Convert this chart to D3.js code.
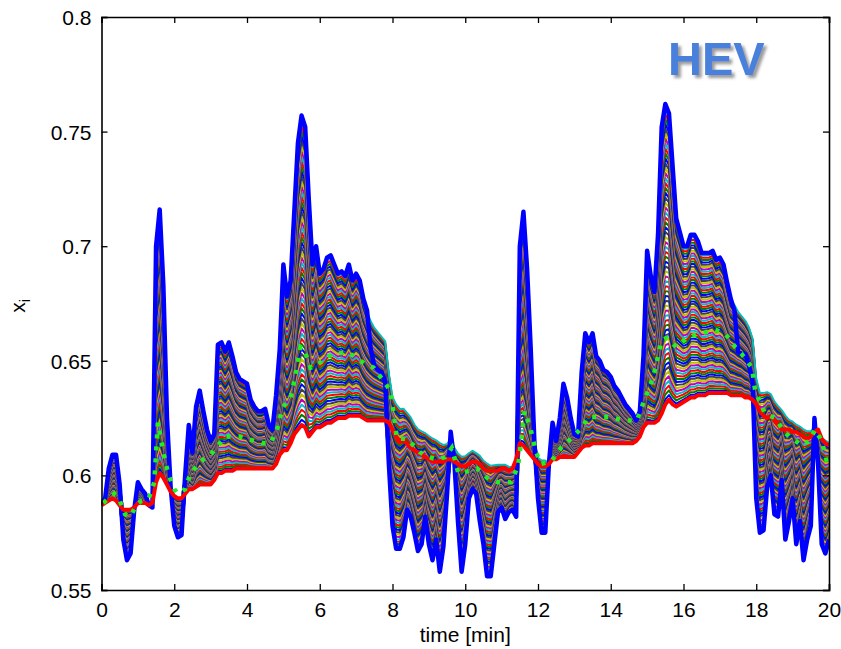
<!DOCTYPE html>
<html>
<head>
<meta charset="utf-8">
<script src="https://cdn.jsdelivr.net/npm/d3@7"></script>
<style>
  body { margin: 0; background: #fff; }
  svg { display: block; }
  text { font-family: "Liberation Sans", Arial, sans-serif; }
</style>
</head>
<body>
<svg id="chart" width="841" height="649"></svg>
<script>
// Cell state of charge x_i over a repeated HEV drive cycle.
// Samples are taken every 0.1 min from 0 to 20 min.
const sampleStep = 0.1;

// Extreme cell (thick blue), one value per sample
const blueCell = [
  0.588, 0.590, 0.603, 0.609, 0.609, 0.596, 0.572, 0.563, 0.566, 0.585,
  0.597, 0.594, 0.592, 0.587, 0.586, 0.700, 0.716, 0.683, 0.625, 0.595,
  0.578, 0.573, 0.574, 0.600, 0.622, 0.610, 0.630, 0.637, 0.628, 0.620,
  0.615, 0.618, 0.657, 0.658, 0.654, 0.658, 0.652, 0.645, 0.642, 0.641,
  0.640, 0.633, 0.630, 0.628, 0.628, 0.629, 0.622, 0.620, 0.635, 0.655,
  0.692, 0.678, 0.685, 0.715, 0.745, 0.757, 0.752, 0.720, 0.692, 0.700,
  0.688, 0.690, 0.695, 0.696, 0.692, 0.688, 0.689, 0.687, 0.692, 0.685,
  0.688, 0.685, 0.677, 0.672, 0.655, 0.648, 0.646, 0.645, 0.641, 0.605,
  0.578, 0.568, 0.568, 0.573, 0.585, 0.582, 0.575, 0.567, 0.570, 0.582,
  0.570, 0.563, 0.572, 0.558, 0.569, 0.592, 0.619, 0.606, 0.580, 0.558,
  0.570, 0.590, 0.594, 0.592, 0.580, 0.570, 0.556, 0.556, 0.570, 0.584,
  0.586, 0.581, 0.584, 0.585, 0.582, 0.700, 0.715, 0.690, 0.655, 0.615,
  0.590, 0.575, 0.575, 0.605, 0.623, 0.615, 0.625, 0.640, 0.634, 0.625,
  0.618, 0.617, 0.645, 0.662, 0.658, 0.662, 0.652, 0.650, 0.646, 0.645,
  0.643, 0.639, 0.637, 0.634, 0.631, 0.629, 0.627, 0.624, 0.628, 0.652,
  0.698, 0.687, 0.680, 0.705, 0.752, 0.762, 0.758, 0.735, 0.712, 0.706,
  0.700, 0.700, 0.705, 0.705, 0.702, 0.697, 0.697, 0.697, 0.698, 0.694,
  0.695, 0.692, 0.684, 0.677, 0.672, 0.654, 0.653, 0.653, 0.648, 0.641,
  0.590, 0.575, 0.576, 0.595, 0.600, 0.583, 0.582, 0.598, 0.572, 0.580,
  0.590, 0.570, 0.580, 0.563, 0.572, 0.578, 0.625, 0.605, 0.570, 0.566,
  0.572
];

// Reference cell (thick red), one value per sample
const redCell = [
  0.587, 0.588, 0.589, 0.590, 0.589, 0.587, 0.585, 0.585, 0.585, 0.586,
  0.588, 0.588, 0.588, 0.587, 0.588, 0.597, 0.601, 0.599, 0.596, 0.593,
  0.591, 0.590, 0.590, 0.592, 0.594, 0.594, 0.595, 0.596, 0.596, 0.596,
  0.596, 0.598, 0.601, 0.601, 0.602, 0.602, 0.602, 0.603, 0.603, 0.603,
  0.603, 0.603, 0.603, 0.603, 0.603, 0.603, 0.603, 0.603, 0.605, 0.609,
  0.611, 0.611, 0.614, 0.618, 0.620, 0.622, 0.621, 0.617, 0.619, 0.621,
  0.621, 0.622, 0.623, 0.623, 0.624, 0.625, 0.625, 0.625, 0.626, 0.626,
  0.626, 0.626, 0.625, 0.624, 0.624, 0.624, 0.624, 0.624, 0.624, 0.623,
  0.620, 0.617, 0.615, 0.615, 0.614, 0.612, 0.611, 0.610, 0.609, 0.608,
  0.607, 0.606, 0.606, 0.606, 0.606, 0.607, 0.607, 0.606, 0.605, 0.604,
  0.604, 0.605, 0.606, 0.606, 0.605, 0.603, 0.602, 0.602, 0.602, 0.602,
  0.603, 0.603, 0.602, 0.603, 0.607, 0.614, 0.613, 0.611, 0.609, 0.607,
  0.605, 0.604, 0.604, 0.605, 0.607, 0.607, 0.608, 0.608, 0.608, 0.608,
  0.608, 0.610, 0.612, 0.613, 0.613, 0.614, 0.614, 0.614, 0.614, 0.614,
  0.614, 0.614, 0.614, 0.614, 0.614, 0.614, 0.614, 0.615, 0.617, 0.621,
  0.623, 0.623, 0.623, 0.624, 0.627, 0.631, 0.633, 0.631, 0.630, 0.631,
  0.632, 0.633, 0.634, 0.634, 0.635, 0.635, 0.635, 0.636, 0.636, 0.636,
  0.636, 0.636, 0.636, 0.635, 0.635, 0.635, 0.635, 0.634, 0.634, 0.633,
  0.631, 0.628, 0.626, 0.625, 0.626, 0.624, 0.622, 0.620, 0.620, 0.620,
  0.619, 0.619, 0.618, 0.617, 0.616, 0.617, 0.619, 0.620, 0.616, 0.614,
  0.613
];

// Highest cell where the pack runs above both thick traces
const spreadTime = [
  7.4, 7.5, 7.6, 7.7, 7.8, 7.9,
  8.0, 8.1, 8.2, 8.3, 8.4, 8.5, 8.6, 8.7, 8.8, 8.9,
  9.0, 9.1, 9.2, 9.3, 9.4, 9.5, 9.6, 9.7, 9.8, 9.9,
  10.0, 10.1, 10.2, 10.3, 10.4, 10.5, 10.6, 10.7, 10.8, 10.9,
  11.0, 11.1, 11.2, 11.3,
  12.0, 12.1, 12.2,
  17.4, 17.5, 17.6, 17.7, 17.8, 17.9,
  18.0, 18.1, 18.2, 18.3, 18.4, 18.5, 18.6, 18.7, 18.8, 18.9,
  19.0, 19.1, 19.2, 19.3, 19.4, 19.5, 19.6, 19.7, 19.8, 19.9, 20.0
];
const spreadTop = [
  0.668, 0.665, 0.663, 0.661, 0.659, 0.645,
  0.635, 0.632, 0.630, 0.630, 0.628, 0.626, 0.623, 0.621, 0.620, 0.619,
  0.618, 0.617, 0.616, 0.615, 0.614, 0.614, 0.616, 0.612, 0.610, 0.609,
  0.609, 0.610, 0.611, 0.610, 0.609, 0.607, 0.606, 0.605, 0.605, 0.605,
  0.605, 0.605, 0.604, 0.604,
  0.608, 0.607, 0.607,
  0.675, 0.672, 0.670, 0.668, 0.665, 0.660,
  0.643, 0.637, 0.637, 0.637, 0.636, 0.633, 0.631, 0.629, 0.627, 0.625,
  0.624, 0.623, 0.622, 0.621, 0.620, 0.620, 0.621, 0.620, 0.617, 0.616, 0.615
];

// Marked cell (green dots)
const greenTime = [
  0.05, 0.2, 0.35, 0.5, 0.65, 0.8, 0.95, 1.1, 1.3, 1.45, 1.5, 1.55, 1.62, 1.7, 1.8, 1.9,
  2.0, 2.1, 2.3, 2.45, 2.62, 2.8, 3.0, 3.2, 3.4, 3.6, 3.8, 4.0, 4.2, 4.45, 4.65, 4.82,
  5.0, 5.2, 5.35, 5.47, 5.57, 5.75, 5.93, 6.2, 6.47, 6.75, 7.03, 7.3, 7.48, 7.67, 7.85, 7.94,
  8.03, 8.12, 8.4, 8.76, 8.99, 9.22, 9.45, 9.63, 9.81, 10.14, 10.33, 10.6, 10.9, 11.26, 11.45,
  11.54, 11.63, 11.8, 11.95, 12.08, 12.36, 12.63, 12.9, 13.16, 13.39, 13.62, 13.98, 14.35, 14.72,
  14.95, 15.17, 15.4, 15.54, 15.8, 16.13, 16.5, 16.87, 17.14, 17.42, 17.6, 17.88, 17.97,
  18.24, 18.52, 18.79, 19.0, 19.25, 19.45, 19.62, 19.8, 19.95
];
const greenCell = [
  0.588, 0.590, 0.592, 0.589, 0.583, 0.582, 0.587, 0.589, 0.590, 0.597, 0.610, 0.623, 0.617, 0.610, 0.603, 0.598,
  0.594, 0.592, 0.594, 0.601, 0.604, 0.607, 0.609, 0.613, 0.617, 0.617, 0.617, 0.616, 0.615, 0.614, 0.614, 0.620,
  0.630, 0.634, 0.645, 0.656, 0.655, 0.647, 0.648, 0.652, 0.653, 0.654, 0.651, 0.648, 0.647, 0.643, 0.639, 0.637,
  0.627, 0.616, 0.616, 0.610, 0.608, 0.607, 0.608, 0.612, 0.601, 0.602, 0.603, 0.599, 0.597, 0.597, 0.604,
  0.615, 0.628, 0.620, 0.610, 0.605, 0.606, 0.612, 0.616, 0.620, 0.6255, 0.6255, 0.6255, 0.624, 0.624,
  0.634, 0.643, 0.659, 0.660, 0.656, 0.6605, 0.662, 0.6635, 0.662, 0.656, 0.653, 0.647, 0.637,
  0.627, 0.625, 0.6185, 0.616, 0.613, 0.615, 0.620, 0.615, 0.6053
];

const xTicks = [0, 2, 4, 6, 8, 10, 12, 14, 16, 18, 20];
const yTicks = [0.55, 0.6, 0.65, 0.7, 0.75, 0.8];
const yTickLabels = ["0.55", "0.6", "0.65", "0.7", "0.75", "0.8"];

// Line colour order used for the cells between the two thick traces
const cellColors = ["#0000ff", "#008000", "#ff0000", "#00bfbf", "#bf00bf", "#bfbf00", "#404040"];
const innerCellCount = 60;

const svg = d3.select("#chart");
const plot = { left: 101.5, right: 829, top: 17, bottom: 590 };

const x = d3.scaleLinear().domain([0, 20]).range([plot.left, plot.right]);
const y = d3.scaleLinear().domain([0.55, 0.8]).range([plot.bottom, plot.top]);

const sampleTimes = blueCell.map((_, k) => +(k * sampleStep).toFixed(1));

// Envelope that the inner cells spread across
const spreadByIndex = new Map(spreadTime.map((t, j) => [Math.round(t / sampleStep), spreadTop[j]]));
const envHigh = blueCell.map((b, k) => spreadByIndex.has(k) ? spreadByIndex.get(k) : Math.max(b, redCell[k]));
const envLow = blueCell.map((b, k) => Math.min(b, redCell[k]));

svg.append("defs").append("clipPath").attr("id", "plotClip")
  .append("rect")
  .attr("x", plot.left).attr("y", plot.top)
  .attr("width", plot.right - plot.left).attr("height", plot.bottom - plot.top);

const line = d3.line()
  .x(d => x(d[0]))
  .y(d => y(d[1]));

const marks = svg.append("g").attr("clip-path", "url(#plotClip)");

// Inner cells
const innerCells = d3.range(1, innerCellCount + 1).map(i => {
  const share = i / (innerCellCount + 1);
  return sampleTimes.map((t, k) => [t, envLow[k] + share * (envHigh[k] - envLow[k])]);
});
marks.selectAll("path.cell")
  .data(innerCells)
  .join("path")
  .attr("class", "cell")
  .attr("d", line)
  .attr("fill", "none")
  .attr("stroke", (d, i) => cellColors[i % cellColors.length])
  .attr("stroke-width", 2)
  .attr("stroke-linejoin", "round");

// Thick blue cell
marks.append("path")
  .attr("d", line(sampleTimes.map((t, k) => [t, blueCell[k]])))
  .attr("fill", "none")
  .attr("stroke", "#0000ff")
  .attr("stroke-width", 4.5)
  .attr("stroke-linejoin", "round");

// Thick red cell
marks.append("path")
  .attr("d", line(sampleTimes.map((t, k) => [t, redCell[k]])))
  .attr("fill", "none")
  .attr("stroke", "#ff0000")
  .attr("stroke-width", 4)
  .attr("stroke-linejoin", "round");

// Green dotted cell
marks.append("path")
  .attr("d", line(greenTime.map((t, j) => [t, greenCell[j]])))
  .attr("fill", "none")
  .attr("stroke", "#22ee22")
  .attr("stroke-width", 4.5)
  .attr("stroke-dasharray", "4,8");

// Axes with inward ticks on all four sides
const axisFont = 21;
const gx = svg.append("g").attr("transform", `translate(0,${plot.bottom})`)
  .call(d3.axisBottom(x).tickValues(xTicks).tickFormat(d3.format("d")).tickSize(-6).tickPadding(12));
const gxTop = svg.append("g").attr("transform", `translate(0,${plot.top})`)
  .call(d3.axisTop(x).tickValues(xTicks).tickFormat("").tickSize(-6));
const gy = svg.append("g").attr("transform", `translate(${plot.left},0)`)
  .call(d3.axisLeft(y).tickValues(yTicks).tickFormat((d, i) => yTickLabels[i]).tickSize(-6).tickPadding(10));
const gyRight = svg.append("g").attr("transform", `translate(${plot.right},0)`)
  .call(d3.axisRight(y).tickValues(yTicks).tickFormat("").tickSize(-6));

[gx, gxTop, gy, gyRight].forEach(g => {
  g.select(".domain").attr("stroke", "#000").attr("stroke-width", 1.6);
  g.selectAll(".tick line").attr("stroke", "#000").attr("stroke-width", 1.3);
  g.selectAll(".tick text")
    .attr("fill", "#000")
    .style("font-size", axisFont + "px")
    .style("font-family", "'Liberation Sans', Arial, sans-serif");
});
gy.selectAll(".tick text").attr("dy", "0.36em");

// Axis titles
svg.append("text")
  .attr("x", (plot.left + plot.right) / 2)
  .attr("y", 642)
  .attr("text-anchor", "middle")
  .style("font-size", "21px")
  .text("time [min]");

const yTitle = svg.append("text")
  .attr("transform", "translate(25,306) rotate(-90)")
  .attr("text-anchor", "middle")
  .style("font-size", "21px");
yTitle.append("tspan").text("x");
yTitle.append("tspan").attr("dy", "5").style("font-size", "14px").text("i");

// Vehicle label with soft shadow
const shadow = svg.select("defs").append("filter").attr("id", "labelShadow")
  .attr("x", "-20%").attr("y", "-20%").attr("width", "140%").attr("height", "160%");
shadow.append("feDropShadow")
  .attr("dx", 3).attr("dy", 3).attr("stdDeviation", 1.6)
  .attr("flood-color", "#7a7a7a").attr("flood-opacity", 0.75);

svg.append("text")
  .attr("x", 668)
  .attr("y", 75)
  .attr("fill", "#4a80dc")
  .attr("filter", "url(#labelShadow)")
  .style("font-size", "47px")
  .style("font-weight", "bold")
  .text("HEV");
</script>
</body>
</html>
